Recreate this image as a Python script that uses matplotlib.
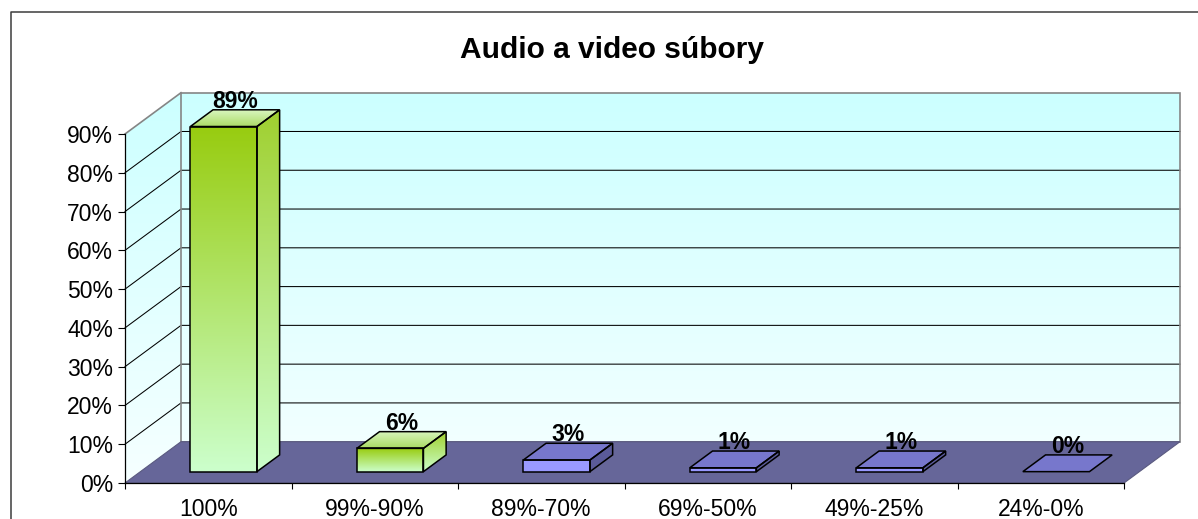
import numpy as np
import matplotlib
matplotlib.use('Agg')
import matplotlib.pyplot as plt
from matplotlib.patches import Polygon
from matplotlib.lines import Line2D
from matplotlib.transforms import IdentityTransform

plt.rcParams['font.family'] = ['Liberation Sans', 'DejaVu Sans']

title = 'Audio a video súbory'
categories = ['100%', '99%-90%', '89%-70%', '69%-50%', '49%-25%', '24%-0%']
values = [89, 6, 3, 1, 1, 0]
yticks = [0, 10, 20, 30, 40, 50, 60, 70, 80, 90]
ytick_labels = ['0%', '10%', '20%', '30%', '40%', '50%', '60%', '70%', '80%', '90%']
value_labels = ['89%', '6%', '3%', '1%', '1%', '0%']

# styles per bar
bar_style = ['green', 'green', 'blue', 'blue', 'blue', 'blue']

W, H = 1198, 519
fig = plt.figure(figsize=(W / 100, H / 100), dpi=100)
fig.patch.set_facecolor('white')

# front plane of the 3d box
ax = fig.add_axes([125 / W, (H - 483) / H, (1124 - 125) / W, (483 - 134) / H])
ax.set_xlim(0, len(categories))
ax.set_ylim(0, 90)
ax.patch.set_visible(False)
for s in ['top', 'right']:
    ax.spines[s].set_visible(False)
ax.spines['left'].set_linewidth(0.9)
ax.spines['bottom'].set_linewidth(0.9)
ax.spines['left'].set_zorder(5)
ax.spines['bottom'].set_zorder(5)

DX, DY = 56.0, 41.3   # depth offset in pixels
D0, D1 = 0.275, 0.68  # bar depth range
BW = 0.4              # bar width in category units


def P(x, v, d):
    p = ax.transData.transform((x, v))
    return np.array([p[0] + d * DX, p[1] + d * DY])


def gradient(pts, c_top, c_bot, z, y_top=None, y_bot=None):
    pts = np.asarray(pts)
    if y_top is None:
        y_top, y_bot = pts[:, 1].max(), pts[:, 1].min()
    if y_top - y_bot < 0.5:
        y_top = y_bot + 1
    c_top = np.array(c_top) / 255.0
    c_bot = np.array(c_bot) / 255.0
    arr = np.linspace(c_bot, c_top, 128)[:, None, :].repeat(2, axis=1)
    im = ax.imshow(arr, extent=(pts[:, 0].min(), pts[:, 0].max(), y_bot, y_top),
                   origin='lower', transform=IdentityTransform(), aspect='auto',
                   interpolation='bilinear', zorder=z)
    clip = Polygon(pts, closed=True, transform=IdentityTransform())
    im.set_clip_path(clip)
    im.set_clip_box(fig.bbox)


def outline(pts, z, color='black', lw=1.1):
    ax.add_patch(Polygon(pts, closed=True, facecolor='none', edgecolor=color,
                         lw=lw, transform=IdentityTransform(), clip_on=False,
                         zorder=z, joinstyle='miter'))


def fill(pts, color, z, edge='none', lw=0):
    ax.add_patch(Polygon(pts, closed=True, facecolor=color, edgecolor=edge,
                         lw=lw, transform=IdentityTransform(), clip_on=False,
                         zorder=z))


n = len(categories)
top = yticks[-1]

# walls
wall_top = P(0, top, 1)[1]
wall_bot = P(0, 0, 0)[1]
back = [P(0, 0, 1), P(n, 0, 1), P(n, top, 1), P(0, top, 1)]
side = [P(0, 0, 0), P(0, 0, 1), P(0, top, 1), P(0, top, 0)]
gradient(back, (204, 255, 255), (246, 255, 255), 0.2, wall_top, wall_bot)
gradient(side, (204, 255, 255), (246, 255, 255), 0.2, wall_top, wall_bot)

# gridlines
for v in yticks[1:-1]:
    a, b, c = P(0, v, 0), P(0, v, 1), P(n, v, 1)
    ax.add_line(Line2D([a[0], b[0], c[0]], [a[1], b[1], c[1]], color='black',
                       lw=0.75, transform=IdentityTransform(), clip_on=False, zorder=0.4))

outline(back, 0.5, color='#858585', lw=1.2)
a, b = P(0, top, 0), P(0, top, 1)
ax.add_line(Line2D([a[0], b[0]], [a[1], b[1]], color='#858585', lw=1.2,
                   transform=IdentityTransform(), clip_on=False, zorder=0.5))

# floor
floor = [P(0, 0, 0), P(n, 0, 0), P(n, 0, 1), P(0, 0, 1)]
fill(floor, '#666699', 0.6, edge='#5a5a80', lw=0.8)

# bars
for i, (v, st) in enumerate(zip(values, bar_style)):
    x0 = i + 0.5 - BW / 2
    x1 = i + 0.5 + BW / 2
    front = [P(x0, 0, D0), P(x1, 0, D0), P(x1, v, D0), P(x0, v, D0)]
    right = [P(x1, 0, D0), P(x1, 0, D1), P(x1, v, D1), P(x1, v, D0)]
    topf = [P(x0, v, D0), P(x1, v, D0), P(x1, v, D1), P(x0, v, D1)]
    z = 1 + i * 0.1
    if st == 'green':
        if v > 0:
            gradient(front, (152, 204, 16), (204, 255, 204), z)
            gradient(right, (160, 208, 48), (204, 255, 204), z)
        gradient(topf, (216, 246, 190), (170, 218, 100), z)
    else:
        if v > 0:
            fill(front, '#9999ff', z)
            fill(right, '#5a5a99', z)
        fill(topf, '#7777cc', z)
    if v > 0:
        outline(front, z + 0.05)
        outline(right, z + 0.05)
    outline(topf, z + 0.05)

    # data label
    lx = P(i + 0.5, v, (D0 + D1) / 2)[0]
    ly = P(i + 0.5, v, D1)[1] + 2
    ax.text(lx, ly, value_labels[i], transform=IdentityTransform(), ha='center',
            va='baseline', fontsize=16.5, fontweight='bold', zorder=6)

# axes ticks
ax.set_yticks(yticks)
ax.set_yticklabels(ytick_labels)
ax.tick_params(axis='y', length=5, width=0.8, pad=3.5, labelsize=16.5)
ax.set_xticks(range(n + 1))
ax.set_xticklabels([])
ax.set_xticks(np.arange(n) + 0.5, minor=True)
ax.set_xticklabels(categories, minor=True)
ax.tick_params(axis='x', which='major', length=4.5, width=0.8)
ax.tick_params(axis='x', which='minor', length=0, pad=11, labelsize=16.5)

# frame and title
fig.add_artist(Line2D([11 / W, 11 / W, 1.0], [0, 1 - 12 / H, 1 - 12 / H],
                      transform=fig.transFigure, color='#3c3c3c', lw=1.1))
fig.text(612 / W, 1 - 50 / H, title, ha='center', va='center',
         fontsize=21.5, fontweight='bold')

fig.savefig('out.png', dpi=100)
